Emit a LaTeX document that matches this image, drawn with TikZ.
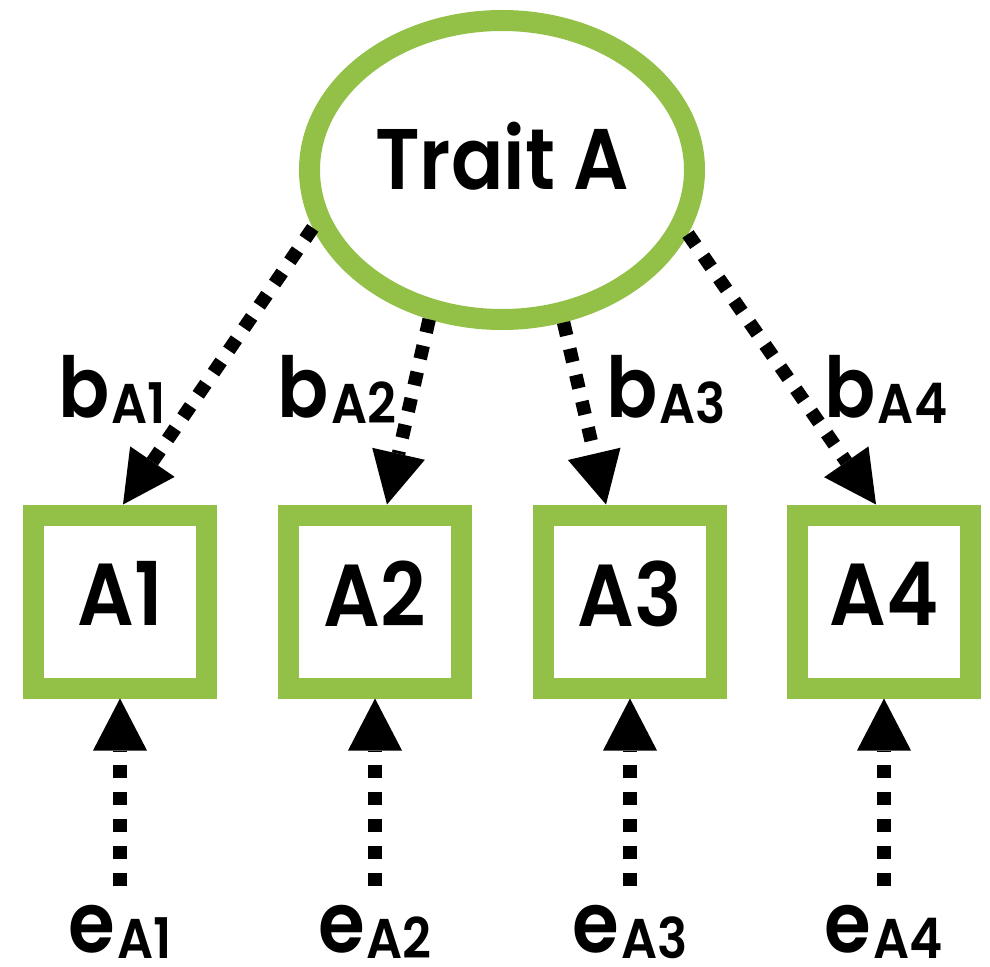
\documentclass[tikz,border=0pt]{standalone}
\usepackage{fontspec}
\setmainfont{Poppins}[UprightFont=* SemiBold, FakeStretch=0.9]
\usetikzlibrary{shapes.geometric,arrows.meta}
\definecolor{traitgreen}{RGB}{147,192,71}
% coefficient label with a lowered, smaller index
\newcommand\pathlabel[2]{#1\kern2pt\raisebox{-6pt}{\fontsize{56pt}{60pt}\selectfont #2}}

\begin{document}
\begin{tikzpicture}[x=1pt,y=-1pt,
  latent/.style={ellipse, draw=traitgreen, line width=21pt,
    minimum width=385pt, minimum height=299pt, inner sep=0pt,
    font=\fontsize{86pt}{96pt}\selectfont, text depth=28pt},
  indicator/.style={rectangle, draw=traitgreen, line width=21pt,
    minimum size=173pt, inner sep=0pt,
    font=\fontsize{88pt}{96pt}\selectfont, text depth=16pt},
  coef/.style={anchor=base, inner sep=0pt, font=\fontsize{84pt}{96pt}\selectfont},
  loading/.style={line width=13.5pt, dash pattern=on 13.5pt off 13.5pt,
    -{Triangle[length=52pt,width=54pt,line width=0pt]}},
]
\useasboundingbox (0,0) rectangle (990,966);

% latent trait
\node[latent] (trait) at (502,170) {Trait A};

% observed indicators
\node[indicator] (a1) at (120,601.5) {A1};
\node[indicator] (a2) at (375,601.5) {A2};
\node[indicator] (a3) at (630,601.5) {A3};
\node[indicator] (a4) at (884,601.5) {A4};

% factor loadings
\draw[loading] (trait.197.5) -- ([xshift=3pt]a1.north);
\draw[loading] (trait.244.9) -- ([xshift=12pt]a2.north);
\draw[loading] (trait.292.1) -- ([xshift=-24pt]a3.north);
\draw[loading] (trait.341.9) -- ([xshift=-8pt]a4.north);

\node[coef] (b1) at (112,417) {\pathlabel{b}{A1}};
\node[coef] (b2) at (337,417) {\pathlabel{b}{A2}};
\node[coef] (b3) at (666,417) {\pathlabel{b}{A3}};
\node[coef] (b4) at (886,417) {\pathlabel{b}{A4}};

% residual terms
\coordinate (r1) at (120,886);
\coordinate (r2) at (375,886);
\coordinate (r3) at (630,886);
\coordinate (r4) at (884,886);
\draw[loading] (r1) -- (a1.south);
\draw[loading] (r2) -- (a2.south);
\draw[loading] (r3) -- (a3.south);
\draw[loading] (r4) -- (a4.south);

\node[coef] (e1) at (120,952) {\pathlabel{e}{A1}};
\node[coef] (e2) at (375,952) {\pathlabel{e}{A2}};
\node[coef] (e3) at (630,952) {\pathlabel{e}{A3}};
\node[coef] (e4) at (884,952) {\pathlabel{e}{A4}};
\end{tikzpicture}
\end{document}
